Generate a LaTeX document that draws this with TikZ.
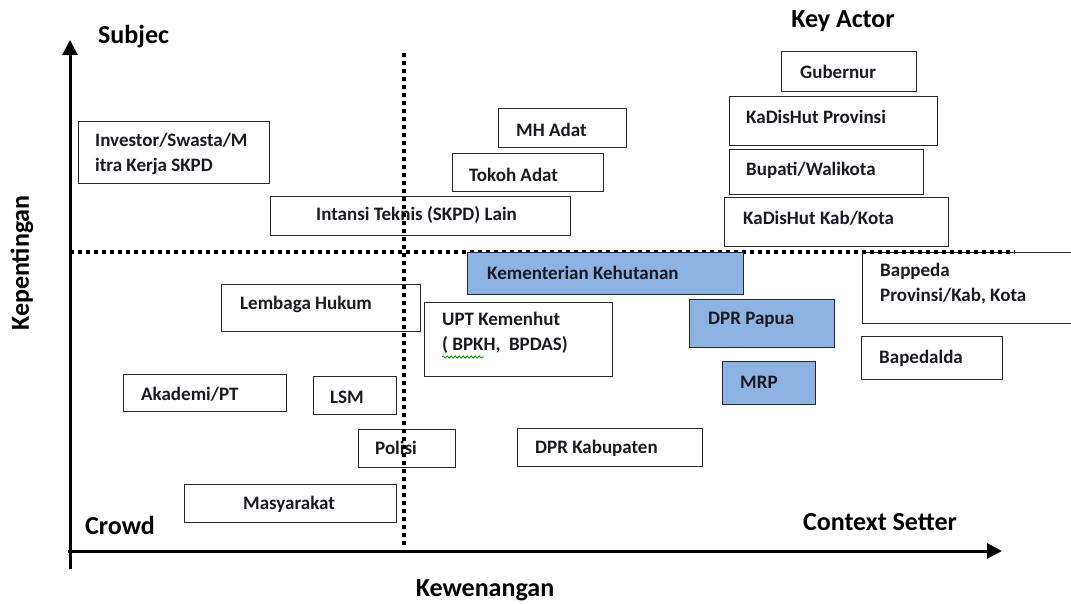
\documentclass[tikz,border=0pt]{standalone}
\usepackage{fontspec}
\setmainfont{Carlito}
\usetikzlibrary{arrows.meta,decorations.pathmorphing}
\definecolor{boxblue}{RGB}{141,179,226}
\definecolor{boxline}{RGB}{40,40,40}
\definecolor{lbltext}{RGB}{25,25,35}
\tikzset{
  box/.style={draw=boxline, line width=1.4pt, rectangle, inner sep=0pt, anchor=north west},
  bluebox/.style={box, fill=boxblue},
  lbl/.style={font=\fontsize{19}{25}\selectfont\bfseries, text=lbltext, anchor=west, inner sep=0pt, align=left},
  ttl/.style={font=\fontsize{26}{30}\selectfont\bfseries, inner sep=0pt},
  axis/.style={line width=3pt, -{Triangle[length=15pt,width=15pt]}},
  dotline/.style={line width=4pt, dash pattern=on 4pt off 4pt},
}
\begin{document}
\begin{tikzpicture}[x=1pt,y=-1pt]
\useasboundingbox (0,0) rectangle (1071,604);
% white boxes
\node[box, minimum width=191pt, minimum height=62pt] (inv) at (78,121) {};
\node[lbl, anchor=north west] (invt) at (95,133) {Investor/Swasta/M\\itra Kerja SKPD};
\node[box, minimum width=300pt, minimum height=39pt] (int) at (270,196) {};
\node[lbl] (intt) at (316,215) {Intansi Teknis (SKPD) Lain};
\node[box, minimum width=128pt, minimum height=39pt] (mh) at (498,108) {};
\node[lbl] (mht) at (516,130) {MH Adat};
\node[box, minimum width=151pt, minimum height=38pt] (tok) at (452,153) {};
\node[lbl] (tokt) at (469,175) {Tokoh Adat};
\node[box, minimum width=135pt, minimum height=40pt] (gub) at (781,51) {};
\node[lbl] (gubt) at (800,72) {Gubernur};
\node[box, minimum width=208pt, minimum height=49pt] (kdp) at (729,96) {};
\node[lbl] (kdpt) at (746,117) {KaDisHut Provinsi};
\node[box, minimum width=194pt, minimum height=45pt] (bup) at (729,149) {};
\node[lbl] (bupt) at (746,170) {Bupati/Walikota};
\node[box, minimum width=224pt, minimum height=49pt] (kdk) at (724,197) {};
\node[lbl] (kdkt) at (743,218) {KaDisHut Kab/Kota};
\node[box, minimum width=220pt, minimum height=71pt] (bap) at (862,252) {};
\node[lbl, anchor=north west] (bapt) at (880,263) {Bappeda\\Provinsi/Kab, Kota};
\node[box, minimum width=141pt, minimum height=43pt] (bpd) at (861,336) {};
\node[lbl] (bpdt) at (879,358) {Bapedalda};
\node[box, minimum width=188pt, minimum height=74pt] (upt) at (424,302) {};
\node[lbl, anchor=north west] (uptt) at (442,312) {UPT Kemenhut\\( BPKH,\ \ BPDAS)};
\draw[green!60!black, line width=0.8pt, decorate, decoration={snake, amplitude=1pt, segment length=4pt}] (442,357) -- (484,357);
\node[box, minimum width=199pt, minimum height=47pt] (lem) at (221,284) {};
\node[lbl] (lemt) at (240,304) {Lembaga Hukum};
\node[box, minimum width=163pt, minimum height=37pt] (aka) at (123,374) {};
\node[lbl] (akat) at (141,394) {Akademi/PT};
\node[box, minimum width=83pt, minimum height=38pt] (lsm) at (313,376) {};
\node[lbl] (lsmt) at (330,397) {LSM};
\node[box, minimum width=97pt, minimum height=38pt] (pol) at (358,429) {};
\node[lbl] (polt) at (375,448) {Polisi};
\node[box, minimum width=185pt, minimum height=38pt] (dkb) at (517,428) {};
\node[lbl] (dkbt) at (535,448) {DPR Kabupaten};
\node[box, minimum width=212pt, minimum height=38pt] (mas) at (184,484) {};
\node[lbl] (mast) at (243,504) {Masyarakat};
% quadrant lines
\coordinate (hl1) at (70,252);
\coordinate (hl2) at (1015,252);
\coordinate (vl1) at (404,53);
\coordinate (vl2) at (404,546);
\draw[dotline] (hl1) -- (hl2);
\draw[dotline] (vl1) -- (vl2);
% blue boxes
\node[bluebox, minimum width=276pt, minimum height=42pt] (kem) at (467,252) {};
\node[lbl] (kemt) at (487,273) {Kementerian Kehutanan};
\node[bluebox, minimum width=145pt, minimum height=48pt] (dpp) at (689,299) {};
\node[lbl] (dppt) at (708,320) {DPR Papua};
\node[bluebox, minimum width=93pt, minimum height=43pt] (mrp) at (722,361) {};
\node[lbl] (mrpt) at (740,382) {MRP};
% axes
\coordinate (o) at (70,569);
\coordinate (ytop) at (70,40);
\coordinate (xo) at (68,551);
\coordinate (xend) at (1002,551);
\draw[axis] (o) -- (ytop);
\draw[axis] (xo) -- (xend);
% titles
\node[ttl, anchor=west] (subj) at (98,37) {Subjec};
\node[ttl] (key) at (843,21) {Key Actor};
\node[ttl, anchor=west] (crowd) at (85,525) {Crowd};
\node[ttl] (ctx) at (880,522) {Context Setter};
\node[ttl] (kew) at (485,590) {Kewenangan};
\node[ttl, rotate=90] (kep) at (22,263) {Kepentingan};
\end{tikzpicture}
\end{document}
